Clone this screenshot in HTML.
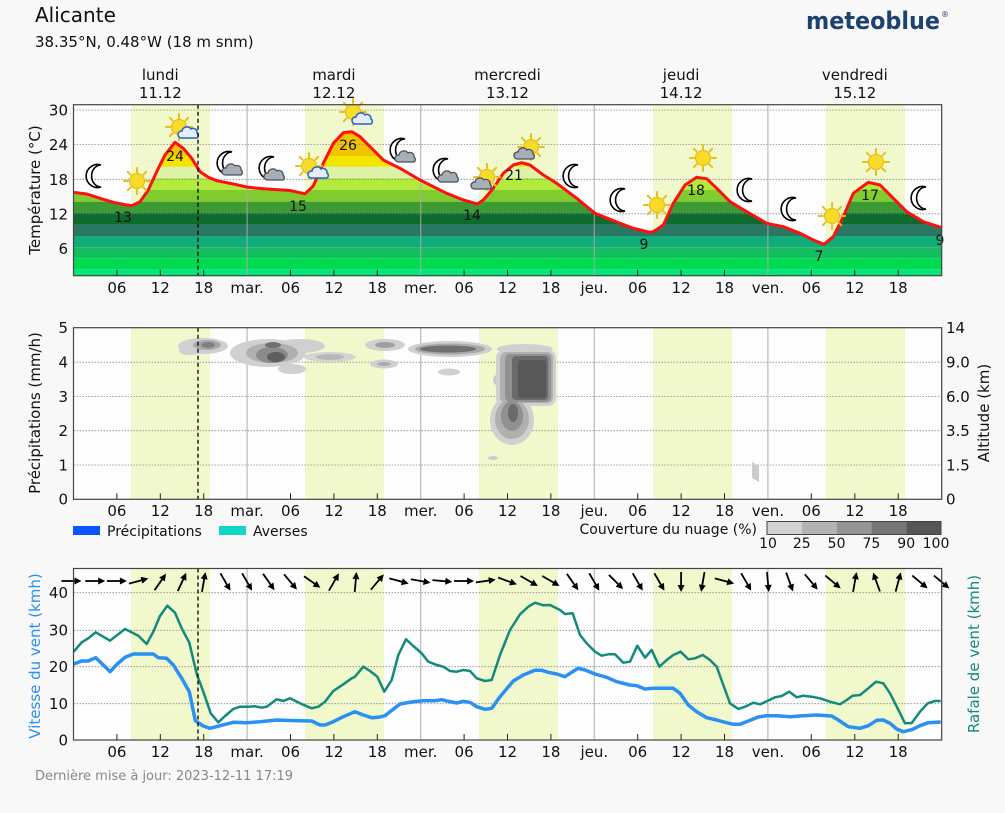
<!DOCTYPE html>
<html><head><meta charset="utf-8"><style>
html,body{margin:0;padding:0;background:#f8f8f8;}
svg{display:block;font-family:"DejaVu Sans","Liberation Sans",sans-serif;}
</style></head><body>
<svg width="1005" height="813" viewBox="0 0 1005 813" xmlns="http://www.w3.org/2000/svg">
<defs>
<symbol id="sun" viewBox="-15 -15 30 30" overflow="visible">
<g stroke="#e8c010" stroke-width="2" stroke-linecap="round">
<line x1="0" y1="-13" x2="0" y2="-9"/><line x1="0" y1="13" x2="0" y2="9"/><line x1="-13" y1="0" x2="-9" y2="0"/><line x1="13" y1="0" x2="9" y2="0"/>
<line x1="-9.2" y1="-9.2" x2="-6.4" y2="-6.4"/><line x1="9.2" y1="9.2" x2="6.4" y2="6.4"/><line x1="-9.2" y1="9.2" x2="-6.4" y2="6.4"/><line x1="9.2" y1="-9.2" x2="6.4" y2="-6.4"/>
</g><circle r="7.5" fill="#f8da2a" stroke="#e0b810" stroke-width="1"/></symbol>
<symbol id="moon" viewBox="-15 -15 30 30" overflow="visible">
<path d="M5,-11 A11.5,11.5 0 1 0 5,11 A9,10.5 0 1 1 5,-11 Z" fill="#fff" stroke="#000" stroke-width="1.6"/></symbol>
<symbol id="cday" viewBox="-15 -15 30 30" overflow="visible">
<path d="M-8,5 a3.5,3.5 0 0 1 1,-7 a5,5 0 0 1 9,-2 a4,4 0 0 1 6,4 a3,3 0 0 1 0,5 z" fill="#e4eeff" stroke="#2f5fc8" stroke-width="1.5"/></symbol>
<symbol id="cnight" viewBox="-15 -15 30 30" overflow="visible">
<path d="M-8,5 a3.5,3.5 0 0 1 1,-7 a5,5 0 0 1 9,-2 a4,4 0 0 1 6,4 a3,3 0 0 1 0,5 z" fill="#a8aeb5" stroke="#4a5058" stroke-width="1.3"/></symbol>
<symbol id="arr" viewBox="-12 -5 24 10" overflow="visible">
<line x1="-10" y1="0" x2="5" y2="0" stroke="#000" stroke-width="1.8"/><polygon points="10,0 3,-3.5 3,3.5" fill="#000"/></symbol>
<clipPath id="tclip"><polygon points="73.7,192.3 86.7,194 100,198.3 113.3,202.3 123.3,204.3 131.7,205.7 140,201.7 148.3,190 156.7,171.7 165,155 175,142.3 183.3,148.3 191.7,158.3 200,171.7 208.3,177.3 216.7,180.7 233.3,184 248.3,187.3 266.7,189 290,190.5 305,193.8 313.3,186 323.3,163.3 333.3,143.3 343.3,132.7 351.7,131.7 360,136.7 370,146.7 383.3,160 400,168.3 420,180 433.3,186.7 446.7,193.3 463.3,200 477.3,204 483.3,200 493.3,188.3 503.3,173.3 513.3,165 521.7,162.7 530,165 543.3,175 556.7,183.3 576.7,198.3 595,213.3 610,219.3 620,223.3 633.3,228.3 650,232.3 653.3,231.7 663.3,225 673.3,203.3 685,185 696.7,177.3 706.7,178.7 716.7,188.3 730,201.7 746.7,211.7 766.7,223.3 783.3,226.7 800,233.3 813.3,240 824,244.3 833.3,236.7 843.3,216.7 853.3,193.3 868.3,182.3 880,185 893.3,198.3 906.7,211.7 923.3,221.7 941.7,227.7 941.7,275.7 73.5,275.7"/></clipPath>
</defs>

<!-- Header -->
<text x="35" y="22" font-size="20" fill="#111">Alicante</text>
<text x="35" y="47" font-size="15" fill="#111">38.35°N, 0.48°W (18 m snm)</text>
<text x="806" y="29" font-size="24" font-weight="bold" fill="#1d4270" textLength="134" lengthAdjust="spacingAndGlyphs">meteoblue</text>
<text x="941" y="17" font-size="8" fill="#1d4270">®</text>

<!-- Day labels -->
<g font-size="15" fill="#111" text-anchor="middle">
<text x="160.3" y="80">lundi</text><text x="160.3" y="98">11.12</text>
<text x="333.9" y="80">mardi</text><text x="333.9" y="98">12.12</text>
<text x="507.5" y="80">mercredi</text><text x="507.5" y="98">13.12</text>
<text x="681.1" y="80">jeudi</text><text x="681.1" y="98">14.12</text>
<text x="854.8" y="80">vendredi</text><text x="854.8" y="98">15.12</text>
</g>

<!-- ===== Panel 1: Temperature ===== -->
<rect x="73.5" y="104.7" width="868.2" height="171" fill="#fdfdfd"/>
<g fill="#f1f8cb">
<rect x="131" y="104.7" width="79" height="171"/><rect x="305" y="104.7" width="79" height="171"/><rect x="479" y="104.7" width="79" height="171"/><rect x="653" y="104.7" width="79" height="171"/><rect x="826" y="104.7" width="79" height="171"/>
</g>
<g clip-path="url(#tclip)">
<rect x="73" y="100" width="870" height="56" fill="#f2c400"/>
<rect x="73" y="156" width="870" height="10.7" fill="#f4e400"/>
<rect x="73" y="166.7" width="870" height="11.6" fill="#dcf2a4"/>
<rect x="73" y="178.3" width="870" height="11.7" fill="#b2ea3e"/>
<rect x="73" y="190" width="870" height="11.7" fill="#80cc30"/>
<rect x="73" y="201.7" width="870" height="11" fill="#3e9a32"/>
<rect x="73" y="212.7" width="870" height="11.3" fill="#0b6c2e"/>
<rect x="73" y="224" width="870" height="12" fill="#2a7862"/>
<rect x="73" y="236" width="870" height="11.3" fill="#12ab7a"/>
<rect x="73" y="247.3" width="870" height="11" fill="#10c05e"/>
<rect x="73" y="258.3" width="870" height="11" fill="#00da50"/>
<rect x="73" y="269.3" width="870" height="7" fill="#00e678"/>
</g>
<g stroke="#888" stroke-width="0.8" stroke-dasharray="1.5,1.5">
<line x1="73.5" y1="110" x2="941.7" y2="110"/><line x1="73.5" y1="144.5" x2="941.7" y2="144.5"/><line x1="73.5" y1="179.3" x2="941.7" y2="179.3"/><line x1="73.5" y1="213.8" x2="941.7" y2="213.8"/><line x1="73.5" y1="248.3" x2="941.7" y2="248.3"/>
</g>
<g stroke="#aaa" stroke-width="1.2" opacity="0.8">
<line x1="247.1" y1="104.7" x2="247.1" y2="275.7"/><line x1="420.7" y1="104.7" x2="420.7" y2="275.7"/><line x1="594.3" y1="104.7" x2="594.3" y2="275.7"/><line x1="767.9" y1="104.7" x2="767.9" y2="275.7"/>
</g>
<polyline fill="none" stroke="#ff1010" stroke-width="3" stroke-linejoin="round" points="73.7,192.3 86.7,194 100,198.3 113.3,202.3 123.3,204.3 131.7,205.7 140,201.7 148.3,190 156.7,171.7 165,155 175,142.3 183.3,148.3 191.7,158.3 200,171.7 208.3,177.3 216.7,180.7 233.3,184 248.3,187.3 266.7,189 290,190.5 305,193.8 313.3,186 323.3,163.3 333.3,143.3 343.3,132.7 351.7,131.7 360,136.7 370,146.7 383.3,160 400,168.3 420,180 433.3,186.7 446.7,193.3 463.3,200 477.3,204 483.3,200 493.3,188.3 503.3,173.3 513.3,165 521.7,162.7 530,165 543.3,175 556.7,183.3 576.7,198.3 595,213.3 610,219.3 620,223.3 633.3,228.3 650,232.3 653.3,231.7 663.3,225 673.3,203.3 685,185 696.7,177.3 706.7,178.7 716.7,188.3 730,201.7 746.7,211.7 766.7,223.3 783.3,226.7 800,233.3 813.3,240 824,244.3 833.3,236.7 843.3,216.7 853.3,193.3 868.3,182.3 880,185 893.3,198.3 906.7,211.7 923.3,221.7 941.7,227.7"/>
<!-- icons -->
<use href="#moon" x="81" y="161" width="30" height="30"/>
<use href="#sun" x="122" y="166" width="30" height="30"/>
<use href="#sun" x="164" y="112" width="30" height="30"/><use href="#cday" x="174" y="118" width="30" height="30"/>
<use href="#moon" x="212" y="148" width="30" height="30"/><use href="#cnight" x="218" y="155" width="30" height="30"/>
<use href="#moon" x="254" y="153" width="30" height="30"/><use href="#cnight" x="260" y="160" width="30" height="30"/>
<use href="#sun" x="294" y="151" width="30" height="30"/><use href="#cday" x="304" y="158" width="30" height="30"/>
<use href="#sun" x="338" y="97" width="30" height="30"/><use href="#cday" x="348" y="104" width="30" height="30"/>
<use href="#moon" x="385" y="135" width="30" height="30"/><use href="#cnight" x="391" y="142" width="30" height="30"/>
<use href="#moon" x="428" y="155" width="30" height="30"/><use href="#cnight" x="434" y="162" width="30" height="30"/>
<use href="#sun" x="472" y="162" width="30" height="30"/><use href="#cnight" x="467" y="169" width="30" height="30"/>
<use href="#sun" x="516" y="132" width="30" height="30"/><use href="#cnight" x="510" y="139" width="30" height="30"/>
<use href="#moon" x="558" y="161" width="30" height="30"/>
<use href="#moon" x="605" y="185" width="30" height="30"/>
<use href="#sun" x="642" y="190" width="30" height="30"/>
<use href="#sun" x="688" y="143" width="30" height="30"/>
<use href="#moon" x="732" y="175" width="30" height="30"/>
<use href="#moon" x="776" y="194" width="30" height="30"/>
<use href="#sun" x="817" y="201" width="30" height="30"/>
<use href="#sun" x="861" y="147" width="30" height="30"/>
<use href="#moon" x="906" y="183" width="30" height="30"/>
<g font-size="14" fill="#111" text-anchor="middle">
<text x="123" y="222">13</text><text x="175" y="161">24</text><text x="298" y="211">15</text><text x="348" y="150">26</text><text x="472" y="220">14</text><text x="514" y="180">21</text><text x="644" y="249">9</text><text x="696" y="195">18</text><text x="819" y="261">7</text><text x="870" y="200">17</text><text x="940" y="245">9</text>
</g>
<line x1="198" y1="104.7" x2="198" y2="275.7" stroke="#000" stroke-width="1.3" stroke-dasharray="4,3"/>
<rect x="73.5" y="104.7" width="868.2" height="171" fill="none" stroke="#444" stroke-width="1.2"/>
<g stroke="#222" stroke-width="1">
<line x1="116.9" y1="275.7" x2="116.9" y2="269.7"/><line x1="160.3" y1="275.7" x2="160.3" y2="269.7"/><line x1="203.7" y1="275.7" x2="203.7" y2="269.7"/><line x1="290.5" y1="275.7" x2="290.5" y2="269.7"/><line x1="333.9" y1="275.7" x2="333.9" y2="269.7"/><line x1="377.3" y1="275.7" x2="377.3" y2="269.7"/><line x1="464.1" y1="275.7" x2="464.1" y2="269.7"/><line x1="507.5" y1="275.7" x2="507.5" y2="269.7"/><line x1="550.9" y1="275.7" x2="550.9" y2="269.7"/><line x1="637.7" y1="275.7" x2="637.7" y2="269.7"/><line x1="681.1" y1="275.7" x2="681.1" y2="269.7"/><line x1="724.5" y1="275.7" x2="724.5" y2="269.7"/><line x1="811.3" y1="275.7" x2="811.3" y2="269.7"/><line x1="854.8" y1="275.7" x2="854.8" y2="269.7"/><line x1="898.2" y1="275.7" x2="898.2" y2="269.7"/>
</g>
<g font-size="15" fill="#111" text-anchor="middle">
<text x="116.9" y="293">06</text><text x="160.3" y="293">12</text><text x="203.7" y="293">18</text><text x="247.1" y="293">mar.</text><text x="290.5" y="293">06</text><text x="333.9" y="293">12</text><text x="377.3" y="293">18</text><text x="420.7" y="293">mer.</text><text x="464.1" y="293">06</text><text x="507.5" y="293">12</text><text x="550.9" y="293">18</text><text x="594.3" y="293">jeu.</text><text x="637.7" y="293">06</text><text x="681.1" y="293">12</text><text x="724.5" y="293">18</text><text x="767.9" y="293">ven.</text><text x="811.3" y="293">06</text><text x="854.8" y="293">12</text><text x="898.2" y="293">18</text>
</g>
<g font-size="15" fill="#111" text-anchor="end">
<text x="68" y="115.5">30</text><text x="68" y="150">24</text><text x="68" y="184.8">18</text><text x="68" y="219.3">12</text><text x="68" y="253.8">6</text>
</g>
<text transform="translate(40,190) rotate(-90)" font-size="15" fill="#111" text-anchor="middle">Température (°C)</text>

<!-- ===== Panel 2: Precip / clouds ===== -->
<rect x="73.5" y="327.7" width="868.2" height="171.6" fill="#fdfdfd"/>
<g fill="#f1f8cb">
<rect x="131" y="327.7" width="79" height="171.6"/><rect x="305" y="327.7" width="79" height="171.6"/><rect x="479" y="327.7" width="79" height="171.6"/><rect x="653" y="327.7" width="79" height="171.6"/><rect x="826" y="327.7" width="79" height="171.6"/>
</g>
<g stroke="#888" stroke-width="0.8" stroke-dasharray="1.5,1.5">
<line x1="73.5" y1="362.2" x2="941.7" y2="362.2"/><line x1="73.5" y1="396.5" x2="941.7" y2="396.5"/><line x1="73.5" y1="430.7" x2="941.7" y2="430.7"/><line x1="73.5" y1="465" x2="941.7" y2="465"/>
</g>
<g stroke="#aaa" stroke-width="1.2" opacity="0.8">
<line x1="247.1" y1="327.7" x2="247.1" y2="499.3"/><line x1="420.7" y1="327.7" x2="420.7" y2="499.3"/><line x1="594.3" y1="327.7" x2="594.3" y2="499.3"/><line x1="767.9" y1="327.7" x2="767.9" y2="499.3"/>
</g>
<!-- clouds -->
<g>
<ellipse cx="203" cy="346" rx="25" ry="8" fill="#d0d0d0"/><ellipse cx="190" cy="351" rx="11" ry="4" fill="#d0d0d0"/>
<ellipse cx="207" cy="345" rx="14" ry="5" fill="#a8a8a8"/><ellipse cx="208" cy="345" rx="7" ry="3" fill="#808080"/>
<ellipse cx="268" cy="353" rx="38" ry="14" fill="#d0d0d0"/><ellipse cx="300" cy="346" rx="25" ry="7" fill="#d0d0d0"/><ellipse cx="292" cy="369" rx="14" ry="5" fill="#d0d0d0"/>
<ellipse cx="272" cy="353" rx="26" ry="10" fill="#b0b0b0"/><ellipse cx="272" cy="355" rx="16" ry="8" fill="#8a8a8a"/><ellipse cx="276" cy="357" rx="9" ry="5" fill="#5e5e5e"/><ellipse cx="273" cy="345" rx="8" ry="3" fill="#707070"/>
<ellipse cx="330" cy="357" rx="26" ry="5" fill="#d4d4d4"/><ellipse cx="330" cy="357" rx="14" ry="3" fill="#b8b8b8"/>
<ellipse cx="385" cy="345" rx="20" ry="6" fill="#d0d0d0"/><ellipse cx="385" cy="345" rx="10" ry="3" fill="#a0a0a0"/>
<ellipse cx="384" cy="364" rx="14" ry="4.5" fill="#d0d0d0"/><ellipse cx="384" cy="364" rx="7" ry="2" fill="#aaa"/>
<ellipse cx="450" cy="349" rx="42" ry="8" fill="#d0d0d0"/><ellipse cx="450" cy="349" rx="35" ry="5.5" fill="#a8a8a8"/><ellipse cx="448" cy="349" rx="28" ry="3.5" fill="#707070"/>
<ellipse cx="449" cy="372" rx="11" ry="3.5" fill="#d0d0d0"/>
<ellipse cx="525" cy="349" rx="28" ry="5" fill="#d0d0d0"/>
<ellipse cx="505" cy="380" rx="12" ry="8" fill="#c8c8c8"/>
<rect x="496" y="350" width="60" height="56" rx="8" fill="#d0d0d0"/>
<ellipse cx="512" cy="420" rx="22" ry="25" fill="#d0d0d0"/>
<rect x="500" y="352" width="53" height="51" rx="6" fill="#b0b0b0"/>
<ellipse cx="512" cy="419" rx="17" ry="20" fill="#b0b0b0"/>
<rect x="505" y="354" width="46" height="48" rx="5" fill="#909090"/>
<ellipse cx="512" cy="416" rx="11" ry="15" fill="#909090"/>
<rect x="512" y="356" width="36" height="44" rx="4" fill="#6a6a6a"/>
<rect x="518" y="360" width="28" height="38" rx="3" fill="#585858"/>
<ellipse cx="513" cy="413" rx="5" ry="9" fill="#6a6a6a"/>
<ellipse cx="493" cy="458" rx="5" ry="2" fill="#ccc"/>
<polygon points="752,462 759,466 759,482 752,478" fill="#cccccc"/>
</g>
<line x1="198" y1="327.7" x2="198" y2="499.3" stroke="#000" stroke-width="1.3" stroke-dasharray="4,3"/>
<rect x="73.5" y="327.7" width="868.2" height="171.6" fill="none" stroke="#444" stroke-width="1.2"/>
<g stroke="#222" stroke-width="1">
<line x1="116.9" y1="499.3" x2="116.9" y2="493.3"/><line x1="160.3" y1="499.3" x2="160.3" y2="493.3"/><line x1="203.7" y1="499.3" x2="203.7" y2="493.3"/><line x1="290.5" y1="499.3" x2="290.5" y2="493.3"/><line x1="333.9" y1="499.3" x2="333.9" y2="493.3"/><line x1="377.3" y1="499.3" x2="377.3" y2="493.3"/><line x1="464.1" y1="499.3" x2="464.1" y2="493.3"/><line x1="507.5" y1="499.3" x2="507.5" y2="493.3"/><line x1="550.9" y1="499.3" x2="550.9" y2="493.3"/><line x1="637.7" y1="499.3" x2="637.7" y2="493.3"/><line x1="681.1" y1="499.3" x2="681.1" y2="493.3"/><line x1="724.5" y1="499.3" x2="724.5" y2="493.3"/><line x1="811.3" y1="499.3" x2="811.3" y2="493.3"/><line x1="854.8" y1="499.3" x2="854.8" y2="493.3"/><line x1="898.2" y1="499.3" x2="898.2" y2="493.3"/>
</g>
<g font-size="15" fill="#111" text-anchor="middle">
<text x="116.9" y="516">06</text><text x="160.3" y="516">12</text><text x="203.7" y="516">18</text><text x="247.1" y="516">mar.</text><text x="290.5" y="516">06</text><text x="333.9" y="516">12</text><text x="377.3" y="516">18</text><text x="420.7" y="516">mer.</text><text x="464.1" y="516">06</text><text x="507.5" y="516">12</text><text x="550.9" y="516">18</text><text x="594.3" y="516">jeu.</text><text x="637.7" y="516">06</text><text x="681.1" y="516">12</text><text x="724.5" y="516">18</text><text x="767.9" y="516">ven.</text><text x="811.3" y="516">06</text><text x="854.8" y="516">12</text><text x="898.2" y="516">18</text>
</g>
<g font-size="15" fill="#111" text-anchor="end">
<text x="68" y="333">5</text><text x="68" y="367.5">4</text><text x="68" y="401.8">3</text><text x="68" y="436">2</text><text x="68" y="470.3">1</text><text x="68" y="504.6">0</text>
</g>
<g font-size="15" fill="#111">
<text x="946" y="333">14</text><text x="946" y="367.5">9.0</text><text x="946" y="401.8">6.0</text><text x="946" y="436">3.5</text><text x="946" y="470.3">1.5</text><text x="946" y="504.6">0</text>
</g>
<text transform="translate(40,413) rotate(-90)" font-size="15" fill="#111" text-anchor="middle">Précipitations (mm/h)</text>
<text transform="translate(989,413) rotate(-90)" font-size="15" fill="#111" text-anchor="middle">Altitude (km)</text>

<!-- legend -->
<rect x="73" y="526" width="27" height="9" fill="#0a55ff"/>
<text x="107" y="536" font-size="14" fill="#111">Précipitations</text>
<rect x="219" y="526" width="27" height="9" fill="#12d6c4"/>
<text x="253" y="536" font-size="14" fill="#111">Averses</text>
<text x="757" y="534" font-size="14" fill="#111" text-anchor="end">Couverture du nuage (%)</text>
<rect x="767" y="521.5" width="34.8" height="13" fill="#d2d2d2"/><rect x="801.8" y="521.5" width="34.8" height="13" fill="#b3b3b3"/><rect x="836.6" y="521.5" width="34.8" height="13" fill="#959595"/><rect x="871.4" y="521.5" width="34.8" height="13" fill="#767676"/><rect x="906.2" y="521.5" width="34.8" height="13" fill="#565656"/>
<rect x="767" y="521.5" width="174" height="13" fill="none" stroke="#444" stroke-width="1"/>
<g font-size="14" fill="#111" text-anchor="middle">
<text x="768" y="548">10</text><text x="801.8" y="548">25</text><text x="836.6" y="548">50</text><text x="871.4" y="548">75</text><text x="906.2" y="548">90</text><text x="936" y="548">100</text>
</g>

<!-- ===== Panel 3: Wind ===== -->
<rect x="73.5" y="568.5" width="868.2" height="171.5" fill="#fdfdfd"/>
<g fill="#f1f8cb">
<rect x="131" y="568.5" width="79" height="171.5"/><rect x="305" y="568.5" width="79" height="171.5"/><rect x="479" y="568.5" width="79" height="171.5"/><rect x="653" y="568.5" width="79" height="171.5"/><rect x="826" y="568.5" width="79" height="171.5"/>
</g>
<g stroke="#888" stroke-width="0.8" stroke-dasharray="1.5,1.5">
<line x1="73.5" y1="592.7" x2="941.7" y2="592.7"/><line x1="73.5" y1="630.3" x2="941.7" y2="630.3"/><line x1="73.5" y1="666.7" x2="941.7" y2="666.7"/><line x1="73.5" y1="703.7" x2="941.7" y2="703.7"/>
</g>
<g stroke="#aaa" stroke-width="1.2" opacity="0.8">
<line x1="247.1" y1="568.5" x2="247.1" y2="740"/><line x1="420.7" y1="568.5" x2="420.7" y2="740"/><line x1="594.3" y1="568.5" x2="594.3" y2="740"/><line x1="767.9" y1="568.5" x2="767.9" y2="740"/>
</g>
<polyline fill="none" stroke="#138a7c" stroke-width="2.5" stroke-linejoin="round" points="73.7,651.7 81.7,642.3 88.3,638.3 95.7,632.3 110,640.7 125,629 138.3,635.7 146.7,644 153.3,631.7 160,616 167.3,605.7 175,612.7 181.7,628.3 189.3,642.7 196.7,674 203.3,691.7 210.7,713.3 218.3,722.3 225,716 233.3,709 240,706.7 248.3,706.7 255,706.3 261.7,707.7 266.7,706.7 276.7,699.3 283.3,701 290,698.3 300,703.3 311.7,708.3 318.3,706.7 325,701.7 333.3,691 343.3,684.3 351.7,678.3 355,676.7 363.3,666.7 370,671 377.3,676.7 384.3,691.7 391.7,680 398.3,655 406,639.3 413.3,646 421.7,653.3 428.3,661.7 436.7,665 443.3,666.7 450,671 456.7,671.7 463.3,670 470,671 476.7,678.3 485,681 491.7,680 500,655 510,630 520,614.3 528.3,606.7 535,602.7 543.3,605.3 550,605 560,610 565,614 572.7,613.3 580,635 586.7,643.3 595,651.7 601.7,655.7 608.3,654.3 615,654.3 623.3,662.7 630,661.7 637.3,645.7 645,657.7 651.7,650 659.3,666.7 666.7,660 673.3,655 680.7,651.7 688.3,659.3 695,658.3 702.7,655 710,660 716.7,666.7 723.3,685 730,703.3 738.3,709 745,706.7 753.3,702.7 760,704.3 767.3,701 775,697.3 781.7,696 789.3,691.7 796.7,697.3 803.3,695.7 811.7,696.7 820,698.3 830,701.7 840,704.3 846.7,700 852.7,695.7 860,695 868.3,688.3 876,681.7 883.3,683.3 890,693.3 899.3,711.7 905,723.3 911.7,723 920,711.7 927.7,703.3 935,701 940.7,701"/>
<polyline fill="none" stroke="#2a90f2" stroke-width="3.5" stroke-linejoin="round" points="73.7,664 81.7,661 88.3,661 95.7,657.7 103.3,665 110,671.7 117.3,664 125,657.3 133.3,654 153.3,654 158.3,657.7 166.7,658.3 173.3,665 181.7,678.3 189.3,691.7 195.3,720.7 203.3,726 210,728.3 220,725.7 233.3,722.3 246.7,722.7 260,721.7 276.7,720 290,720.5 311.7,721 320,725 325,725 333.3,721.7 343.3,716.7 355,711.7 363.3,715 371.7,717.7 378.3,717.3 385,715.7 390,711.7 400,704 413.3,701.7 423.3,700.7 435,700.7 441.7,699.7 446.7,701 456.7,703 463.3,701.3 470,702.3 476.7,706.7 485,709.3 491.7,708.3 500,696.7 513.3,681 523.3,675 535,670.3 541.7,670.3 548.3,672.3 556.7,674 565,676.7 571.7,672.3 578.3,668.3 585,670 595,674 606.7,677.3 616.7,681.7 630,685 636.7,685.7 645,689 653.3,688.3 673.3,688.3 680,693.3 688.3,705 696.7,711.7 706.7,717.7 716.7,720 725,722.3 733.3,724.3 740,724.3 748.3,721 758.3,717 766.7,715.7 776.7,715.7 790,716.7 803.3,715.7 816.7,715 831.7,716 838.3,720 848.3,726.7 860,728.3 868.3,725.7 876.7,720.3 883.3,720 890,723.3 896.7,729 903.3,731.7 911.7,729.7 920,725.7 928.3,722.7 940.7,722"/>
<!-- arrows -->
<g>
<use href="#arr" width="24" height="10" x="-12" y="-5" transform="translate(71.5,581) rotate(0)"/>
<use href="#arr" width="24" height="10" x="-12" y="-5" transform="translate(95.2,581) rotate(0)"/>
<use href="#arr" width="24" height="10" x="-12" y="-5" transform="translate(116.9,581) rotate(0)"/>
<use href="#arr" width="24" height="10" x="-12" y="-5" transform="translate(138.6,581) rotate(-15)"/>
<use href="#arr" width="24" height="10" x="-12" y="-5" transform="translate(160.3,582) rotate(-55)"/>
<use href="#arr" width="24" height="10" x="-12" y="-5" transform="translate(182,582) rotate(-65)"/>
<use href="#arr" width="24" height="10" x="-12" y="-5" transform="translate(203.7,582) rotate(-80)"/>
<use href="#arr" width="24" height="10" x="-12" y="-5" transform="translate(225.4,582) rotate(60)"/>
<use href="#arr" width="24" height="10" x="-12" y="-5" transform="translate(247.1,582) rotate(60)"/>
<use href="#arr" width="24" height="10" x="-12" y="-5" transform="translate(268.8,582) rotate(55)"/>
<use href="#arr" width="24" height="10" x="-12" y="-5" transform="translate(290.5,582) rotate(50)"/>
<use href="#arr" width="24" height="10" x="-12" y="-5" transform="translate(312.2,582) rotate(35)"/>
<use href="#arr" width="24" height="10" x="-12" y="-5" transform="translate(333.9,582) rotate(-60)"/>
<use href="#arr" width="24" height="10" x="-12" y="-5" transform="translate(355.6,582) rotate(-85)"/>
<use href="#arr" width="24" height="10" x="-12" y="-5" transform="translate(377.3,582) rotate(-50)"/>
<use href="#arr" width="24" height="10" x="-12" y="-5" transform="translate(399,581) rotate(15)"/>
<use href="#arr" width="24" height="10" x="-12" y="-5" transform="translate(420.7,581) rotate(10)"/>
<use href="#arr" width="24" height="10" x="-12" y="-5" transform="translate(442.4,581) rotate(5)"/>
<use href="#arr" width="24" height="10" x="-12" y="-5" transform="translate(464.1,581) rotate(0)"/>
<use href="#arr" width="24" height="10" x="-12" y="-5" transform="translate(485.8,581) rotate(-8)"/>
<use href="#arr" width="24" height="10" x="-12" y="-5" transform="translate(507.5,581) rotate(20)"/>
<use href="#arr" width="24" height="10" x="-12" y="-5" transform="translate(529.2,581) rotate(30)"/>
<use href="#arr" width="24" height="10" x="-12" y="-5" transform="translate(550.9,581) rotate(30)"/>
<use href="#arr" width="24" height="10" x="-12" y="-5" transform="translate(572.6,582) rotate(55)"/>
<use href="#arr" width="24" height="10" x="-12" y="-5" transform="translate(594.3,582) rotate(60)"/>
<use href="#arr" width="24" height="10" x="-12" y="-5" transform="translate(616,582) rotate(45)"/>
<use href="#arr" width="24" height="10" x="-12" y="-5" transform="translate(637.7,582) rotate(60)"/>
<use href="#arr" width="24" height="10" x="-12" y="-5" transform="translate(659.4,582) rotate(60)"/>
<use href="#arr" width="24" height="10" x="-12" y="-5" transform="translate(681.1,582) rotate(90)"/>
<use href="#arr" width="24" height="10" x="-12" y="-5" transform="translate(702.8,582) rotate(100)"/>
<use href="#arr" width="24" height="10" x="-12" y="-5" transform="translate(724.5,581) rotate(15)"/>
<use href="#arr" width="24" height="10" x="-12" y="-5" transform="translate(746.2,582) rotate(60)"/>
<use href="#arr" width="24" height="10" x="-12" y="-5" transform="translate(767.9,582) rotate(85)"/>
<use href="#arr" width="24" height="10" x="-12" y="-5" transform="translate(789.6,582) rotate(70)"/>
<use href="#arr" width="24" height="10" x="-12" y="-5" transform="translate(811.3,582) rotate(50)"/>
<use href="#arr" width="24" height="10" x="-12" y="-5" transform="translate(833,582) rotate(40)"/>
<use href="#arr" width="24" height="10" x="-12" y="-5" transform="translate(854.8,582) rotate(-80)"/>
<use href="#arr" width="24" height="10" x="-12" y="-5" transform="translate(876.5,582) rotate(-110)"/>
<use href="#arr" width="24" height="10" x="-12" y="-5" transform="translate(898.2,582) rotate(-75)"/>
<use href="#arr" width="24" height="10" x="-12" y="-5" transform="translate(919.9,582) rotate(40)"/>
<use href="#arr" width="24" height="10" x="-12" y="-5" transform="translate(941.6,582) rotate(40)"/>
</g>
<line x1="198" y1="568.5" x2="198" y2="740" stroke="#000" stroke-width="1.3" stroke-dasharray="4,3"/>
<rect x="73.5" y="568.5" width="868.2" height="171.5" fill="none" stroke="#444" stroke-width="1.2"/>
<g stroke="#222" stroke-width="1">
<line x1="116.9" y1="740" x2="116.9" y2="734"/><line x1="160.3" y1="740" x2="160.3" y2="734"/><line x1="203.7" y1="740" x2="203.7" y2="734"/><line x1="290.5" y1="740" x2="290.5" y2="734"/><line x1="333.9" y1="740" x2="333.9" y2="734"/><line x1="377.3" y1="740" x2="377.3" y2="734"/><line x1="464.1" y1="740" x2="464.1" y2="734"/><line x1="507.5" y1="740" x2="507.5" y2="734"/><line x1="550.9" y1="740" x2="550.9" y2="734"/><line x1="637.7" y1="740" x2="637.7" y2="734"/><line x1="681.1" y1="740" x2="681.1" y2="734"/><line x1="724.5" y1="740" x2="724.5" y2="734"/><line x1="811.3" y1="740" x2="811.3" y2="734"/><line x1="854.8" y1="740" x2="854.8" y2="734"/><line x1="898.2" y1="740" x2="898.2" y2="734"/>
</g>
<g font-size="15" fill="#111" text-anchor="middle">
<text x="116.9" y="757">06</text><text x="160.3" y="757">12</text><text x="203.7" y="757">18</text><text x="247.1" y="757">mar.</text><text x="290.5" y="757">06</text><text x="333.9" y="757">12</text><text x="377.3" y="757">18</text><text x="420.7" y="757">mer.</text><text x="464.1" y="757">06</text><text x="507.5" y="757">12</text><text x="550.9" y="757">18</text><text x="594.3" y="757">jeu.</text><text x="637.7" y="757">06</text><text x="681.1" y="757">12</text><text x="724.5" y="757">18</text><text x="767.9" y="757">ven.</text><text x="811.3" y="757">06</text><text x="854.8" y="757">12</text><text x="898.2" y="757">18</text>
</g>
<g font-size="15" fill="#111" text-anchor="end">
<text x="68" y="598">40</text><text x="68" y="635.6">30</text><text x="68" y="672">20</text><text x="68" y="709">10</text><text x="68" y="745.3">0</text>
</g>
<text transform="translate(40,656) rotate(-90)" font-size="15" fill="#2a90f2" text-anchor="middle">Vitesse du vent (kmh)</text>
<text transform="translate(979,654) rotate(-90)" font-size="15" fill="#138a7c" text-anchor="middle">Rafale de vent (kmh)</text>

<text x="35" y="780" font-size="13" fill="#888">Dernière mise à jour: 2023-12-11 17:19</text>
</svg>
</body></html>
